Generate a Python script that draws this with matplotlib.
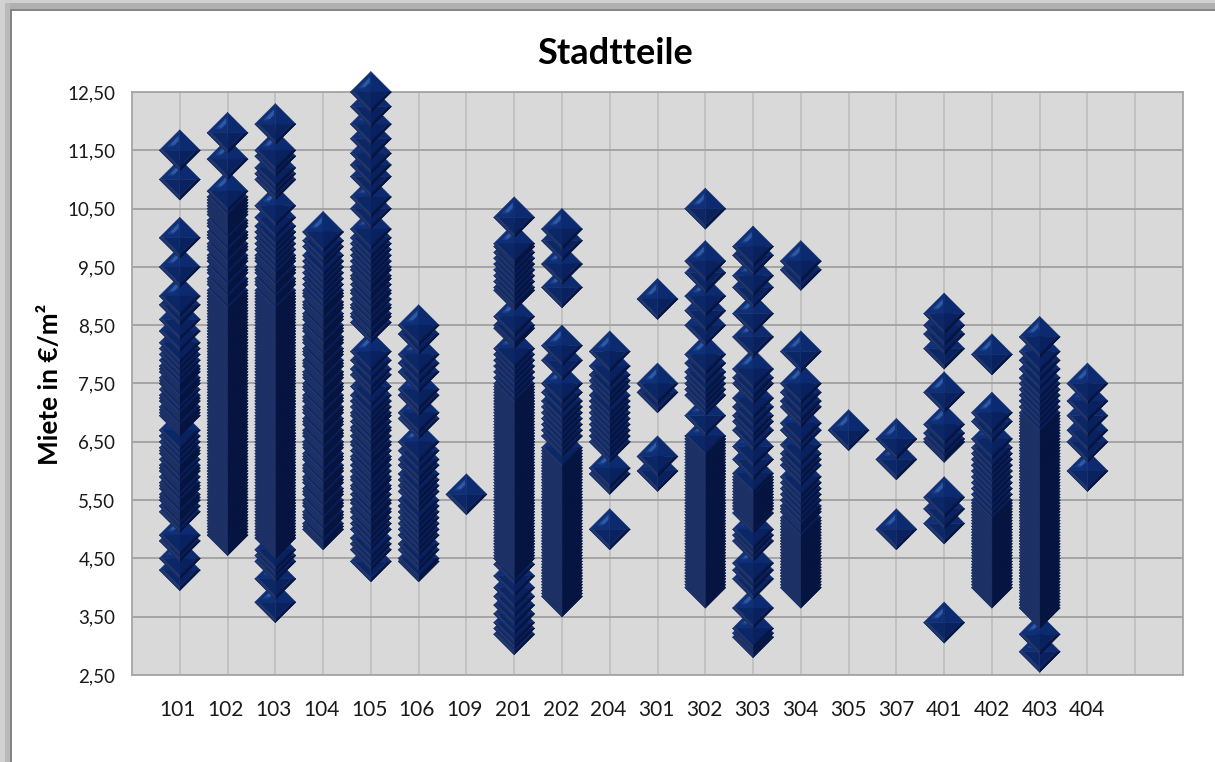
import matplotlib
matplotlib.use("Agg")
import matplotlib.pyplot as plt
import numpy as np
from matplotlib.collections import PathCollection
from matplotlib.patches import Rectangle
from matplotlib.path import Path
from matplotlib.transforms import IdentityTransform

plt.rcParams['font.family'] = ['Lato', 'DejaVu Sans']

W, H = 1215, 762

districts = ["101", "102", "103", "104", "105", "106", "109", "201", "202", "204",
             "301", "302", "303", "304", "305", "307", "401", "402", "403", "404"]

rent_101 = [4.3, 4.5, 4.8, 4.9, 5.3, 5.4, 5.5, 5.55, 5.6, 5.7, 5.75, 5.8, 5.9, 6.0, 6.05, 6.1, 6.2,
            6.3, 6.35, 6.4, 6.5, 6.6, 6.7, 6.95, 7.0, 7.05, 7.1, 7.2, 7.25, 7.3, 7.4, 7.5, 7.55, 7.6,
            7.7, 7.75, 7.8, 7.9, 8.0, 8.1, 8.2, 8.4, 8.6, 8.85, 9.0, 9.5, 10.0, 11.0, 11.5]
rent_102 = [4.9, 4.95, 5.0, 5.05, 5.1, 5.15, 5.2, 5.25, 5.3, 5.35, 5.4, 5.45, 5.5, 5.55, 5.6, 5.65,
            5.7, 5.75, 5.8, 5.85, 5.9, 5.95, 6.0, 6.05, 6.1, 6.15, 6.2, 6.25, 6.3, 6.35, 6.4, 6.45,
            6.5, 6.55, 6.6, 6.65, 6.7, 6.75, 6.8, 6.85, 6.9, 6.95, 7.0, 7.05, 7.1, 7.15, 7.2, 7.25,
            7.3, 7.35, 7.4, 7.45, 7.5, 7.55, 7.6, 7.65, 7.7, 7.75, 7.8, 7.85, 7.9, 7.95, 8.0, 8.05,
            8.1, 8.15, 8.2, 8.25, 8.3, 8.35, 8.4, 8.45, 8.5, 8.55, 8.6, 8.65, 8.7, 8.75, 8.8, 8.85,
            8.9, 8.95, 9.0, 9.05, 9.1, 9.2, 9.25, 9.3, 9.4, 9.45, 9.5, 9.6, 9.65, 9.7, 9.8, 9.85,
            9.9, 10.0, 10.05, 10.1, 10.2, 10.25, 10.3, 10.4, 10.45, 10.5, 10.55, 10.6, 10.65, 10.7,
            10.8, 11.35, 11.8]
rent_103 = [3.75, 4.15, 4.45, 4.55, 4.65, 4.85, 4.9, 4.95, 5.0, 5.05, 5.1, 5.15, 5.2, 5.25, 5.3,
            5.35, 5.4, 5.45, 5.5, 5.55, 5.6, 5.65, 5.7, 5.75, 5.8, 5.85, 5.9, 5.95, 6.0, 6.05, 6.1,
            6.15, 6.2, 6.25, 6.3, 6.35, 6.4, 6.45, 6.5, 6.55, 6.6, 6.65, 6.7, 6.75, 6.8, 6.85, 6.9,
            6.95, 7.0, 7.05, 7.1, 7.15, 7.2, 7.25, 7.3, 7.35, 7.4, 7.45, 7.5, 7.55, 7.6, 7.65, 7.7,
            7.75, 7.8, 7.85, 7.9, 7.95, 8.0, 8.05, 8.1, 8.15, 8.2, 8.25, 8.3, 8.35, 8.4, 8.45, 8.5,
            8.55, 8.6, 8.65, 8.7, 8.75, 8.8, 8.85, 8.9, 8.95, 9.0, 9.05, 9.1, 9.2, 9.25, 9.3, 9.4,
            9.45, 9.5, 9.6, 9.65, 9.7, 9.8, 9.9, 10.0, 10.1, 10.2, 10.35, 10.55, 11.0, 11.1, 11.2,
            11.4, 11.5, 11.95]
rent_104 = [5.0, 5.05, 5.1, 5.2, 5.25, 5.3, 5.4, 5.45, 5.5, 5.6, 5.65, 5.7, 5.8, 5.85, 5.9, 6.0,
            6.05, 6.1, 6.2, 6.25, 6.3, 6.4, 6.45, 6.5, 6.6, 6.65, 6.7, 6.8, 6.85, 6.9, 7.0, 7.05,
            7.1, 7.2, 7.25, 7.3, 7.4, 7.45, 7.5, 7.6, 7.65, 7.7, 7.8, 7.85, 7.9, 8.0, 8.05, 8.1,
            8.2, 8.25, 8.3, 8.4, 8.45, 8.5, 8.6, 8.65, 8.7, 8.8, 8.85, 8.9, 9.0, 9.05, 9.1, 9.2,
            9.3, 9.4, 9.5, 9.6, 9.7, 9.85, 9.95, 10.1]
rent_105 = [4.45, 4.65, 4.75, 4.85, 5.0, 5.1, 5.2, 5.3, 5.35, 5.45, 5.5, 5.6, 5.7, 5.75, 5.85, 5.9,
            6.0, 6.1, 6.2, 6.25, 6.35, 6.45, 6.5, 6.6, 6.7, 6.75, 6.85, 6.95, 7.0, 7.1, 7.2, 7.3,
            7.45, 7.65, 7.75, 7.9, 8.05, 8.55, 8.65, 8.7, 8.8, 8.85, 8.95, 9.05, 9.1, 9.2, 9.3, 9.35,
            9.45, 9.5, 9.6, 9.7, 9.8, 9.9, 10.0, 10.15, 10.5, 10.7, 11.05, 11.25, 11.45, 11.7, 11.95,
            12.25, 12.5]
rent_106 = [4.45, 4.5, 4.65, 4.75, 4.9, 5.0, 5.1, 5.2, 5.3, 5.4, 5.5, 5.65, 5.75, 5.85, 5.95, 6.1,
            6.2, 6.35, 6.5, 6.9, 7.0, 7.3, 7.4, 7.7, 7.85, 8.0, 8.35, 8.5]
rent_109 = [5.6]
rent_201 = [3.2, 3.3, 3.4, 3.55, 3.7, 3.85, 4.0, 4.2, 4.4, 4.5, 4.55, 4.6, 4.65, 4.7, 4.75, 4.8,
            4.85, 4.9, 4.95, 5.0, 5.05, 5.1, 5.15, 5.2, 5.25, 5.3, 5.35, 5.4, 5.45, 5.5, 5.55, 5.6,
            5.65, 5.7, 5.75, 5.8, 5.85, 5.9, 5.95, 6.0, 6.05, 6.1, 6.15, 6.2, 6.25, 6.3, 6.35, 6.4,
            6.45, 6.5, 6.55, 6.6, 6.65, 6.7, 6.75, 6.8, 6.85, 6.9, 6.95, 7.0, 7.05, 7.1, 7.15, 7.2,
            7.25, 7.3, 7.35, 7.4, 7.45, 7.5, 7.6, 7.7, 7.8, 7.9, 8.0, 8.1, 8.45, 8.5, 8.65, 9.1,
            9.15, 9.25, 9.35, 9.45, 9.55, 9.65, 9.75, 9.85, 9.9, 10.35]
rent_202 = [3.85, 3.9, 3.95, 4.0, 4.05, 4.1, 4.15, 4.2, 4.25, 4.3, 4.35, 4.4, 4.45, 4.5, 4.55, 4.6,
            4.65, 4.7, 4.75, 4.8, 4.85, 4.9, 4.95, 5.0, 5.05, 5.1, 5.15, 5.2, 5.25, 5.3, 5.35, 5.4,
            5.45, 5.5, 5.55, 5.6, 5.65, 5.7, 5.75, 5.8, 5.85, 5.9, 5.95, 6.0, 6.05, 6.1, 6.15, 6.2,
            6.25, 6.3, 6.35, 6.4, 6.6, 6.7, 6.8, 6.9, 7.0, 7.1, 7.2, 7.35, 7.5, 7.9, 8.15, 9.15,
            9.55, 9.95, 10.15]
rent_204 = [5.0, 5.95, 6.05, 6.5, 6.6, 6.7, 6.8, 6.9, 7.0, 7.1, 7.2, 7.3, 7.45, 7.55, 7.65, 7.8, 8.05]
rent_301 = [6.0, 6.25, 7.35, 7.5, 8.95]
rent_302 = [4.0, 4.05, 4.1, 4.15, 4.2, 4.25, 4.3, 4.35, 4.4, 4.45, 4.5, 4.55, 4.6, 4.65, 4.7, 4.75,
            4.8, 4.85, 4.9, 4.95, 5.0, 5.05, 5.1, 5.15, 5.2, 5.25, 5.3, 5.35, 5.4, 5.45, 5.5, 5.55,
            5.6, 5.65, 5.7, 5.75, 5.8, 5.85, 5.9, 5.95, 6.0, 6.05, 6.1, 6.15, 6.2, 6.25, 6.3, 6.35,
            6.4, 6.45, 6.5, 6.55, 6.6, 6.95, 7.3, 7.4, 7.5, 7.6, 7.7, 7.85, 8.0, 8.5, 8.75, 9.0,
            9.4, 9.6, 10.5]
rent_303 = [3.15, 3.22, 3.3, 3.65, 4.15, 4.3, 4.42, 4.8, 4.9, 5.0, 5.28, 5.35, 5.4, 5.45, 5.5, 5.55,
            5.6, 5.65, 5.7, 5.75, 5.8, 5.85, 5.9, 5.96, 6.2, 6.42, 6.7, 6.85, 6.95, 7.1, 7.25, 7.5,
            7.6, 7.75, 8.3, 8.7, 9.15, 9.35, 9.7, 9.85]
rent_304 = [4.0, 4.05, 4.1, 4.15, 4.2, 4.25, 4.3, 4.35, 4.4, 4.45, 4.5, 4.55, 4.6, 4.65, 4.7, 4.75,
            4.8, 4.85, 4.9, 4.95, 5.0, 5.05, 5.1, 5.15, 5.2, 5.3, 5.35, 5.4, 5.5, 5.6, 5.7, 5.8,
            5.9, 6.1, 6.2, 6.3, 6.45, 6.7, 6.82, 7.1, 7.2, 7.35, 7.5, 8.05, 9.45, 9.6]
rent_305 = [6.7]
rent_307 = [5.0, 6.2, 6.55]
rent_401 = [3.4, 5.1, 5.35, 5.55, 6.5, 6.55, 6.65, 6.8, 7.35, 8.1, 8.35, 8.5, 8.7]
rent_402 = [4.0, 4.05, 4.1, 4.15, 4.2, 4.25, 4.3, 4.35, 4.4, 4.45, 4.5, 4.55, 4.6, 4.65, 4.7, 4.75,
            4.8, 4.85, 4.9, 4.95, 5.0, 5.05, 5.1, 5.15, 5.2, 5.25, 5.3, 5.35, 5.4, 5.45, 5.5, 5.6,
            5.7, 5.8, 5.9, 6.0, 6.1, 6.2, 6.3, 6.4, 6.55, 6.85, 7.0, 8.0]
rent_403 = [2.9, 3.2, 3.65, 3.7, 3.75, 3.8, 3.85, 3.9, 3.95, 4.0, 4.05, 4.1, 4.15, 4.2, 4.25, 4.3,
            4.35, 4.4, 4.45, 4.5, 4.55, 4.6, 4.65, 4.7, 4.75, 4.8, 4.85, 4.9, 4.95, 5.0, 5.05, 5.1,
            5.15, 5.2, 5.25, 5.3, 5.35, 5.4, 5.45, 5.5, 5.55, 5.6, 5.65, 5.7, 5.75, 5.8, 5.85, 5.9,
            5.95, 6.0, 6.05, 6.1, 6.15, 6.2, 6.25, 6.3, 6.35, 6.4, 6.45, 6.5, 6.55, 6.6, 6.65, 6.7,
            6.75, 6.8, 6.85, 6.9, 6.95, 7.0, 7.1, 7.2, 7.3, 7.4, 7.5, 7.6, 7.75, 7.9, 8.05, 8.3]
rent_404 = [6.0, 6.5, 6.7, 6.95, 7.2, 7.5]

all_rents = [rent_101, rent_102, rent_103, rent_104, rent_105, rent_106, rent_109, rent_201, rent_202,
             rent_204, rent_301, rent_302, rent_303, rent_304, rent_305, rent_307, rent_401, rent_402,
             rent_403, rent_404]

y_ticks = [2.5, 3.5, 4.5, 5.5, 6.5, 7.5, 8.5, 9.5, 10.5, 11.5, 12.5]
y_labels = ["2,50", "3,50", "4,50", "5,50", "6,50", "7,50", "8,50", "9,50", "10,50", "11,50", "12,50"]

fig = plt.figure(figsize=(W / 100, H / 100), dpi=100, facecolor='white')

# grey window edge from the screenshot, in pixels from the top left
def band(x, y, w, h, color):
    fig.add_artist(Rectangle((x, H - y - h), w, h, transform=IdentityTransform(),
                             facecolor=color, edgecolor='none'))

band(0, 0, W, 3, '#d0d0d0')
band(0, 3, W, 6, '#b0b0b0')
band(0, 9, W, 2, '#868686')
band(0, 0, 5, H, '#d2d2d2')
band(5, 3, 5, H, '#bababa')
band(10, 10, 2, H, '#848484')

ax = fig.add_axes([132 / W, 1 - 675 / H, 1051 / W, 583 / H], facecolor='#d9d9d9')
ax.set_xlim(0, 22)
ax.set_ylim(2.5, 12.5)
ax.set_axisbelow(True)
ax.set_yticks(y_ticks, y_labels)
ax.set_xticks(range(1, 23))
ax.grid(axis='y', color='#a0a0a0', linewidth=1.3)
ax.grid(axis='x', color='#c0c0c0', linewidth=1.3)
ax.tick_params(length=0, labelsize=13.5, labelcolor='#1a1a1a')
ax.tick_params(axis='y', pad=12)
ax.set_xticklabels([])
for spine in ax.spines.values():
    spine.set_color('#a6a6a6')
    spine.set_linewidth(1.3)

for i, name in enumerate(districts):
    # labels drift a few px left of their gridlines towards the left side
    nudge = -2.5 * (16 - i) / 16 if i < 16 else 0
    ax.annotate(name, (i + 1, 2.5), xytext=(nudge * 0.72, -25), textcoords='offset points',
                ha='center', va='center', fontsize=15, color='#1a1a1a')

fig.text(50 / W, 1 - 384 / H, "Miete in €/m²", fontsize=18.8, fontweight='bold', rotation=90,
         ha='center', va='center')
fig.text(615 / W, 1 - 54 / H, "Stadtteile", fontsize=26, fontweight='bold', ha='center', va='center')

# bevelled diamond, one polygon per facet, in pixels around the marker centre
R = 20.5
r = 0.8
s = 0.95
T, E, B, L = (0, 1), (1, 0), (0, -1), (-1, 0)
e, b, l = (r, 0), (0, -r), (-r, 0)
e2, b2, l2 = (s, 0), (0, -s), (-s, 0)
c = (0, 0)
facets = [
    ([L, T, c], '#0f2f78'),
    ([T, E, c], '#0b2a70'),
    ([E, B, b, e], '#081a4c'),
    ([E, B, b2, e2], '#05123a'),
    ([B, L, l, b], '#24386c'),
    ([B, L, l2, b2], '#1a2d62'),
    ([e, b, c], '#0a2160'),
    ([b, l, c], '#0c2766'),
    ([(-0.06, 0.74), (-0.6, 0.2), (-0.34, 0.18), (-0.06, 0.42)], '#1b4088'),
    ([(-0.08, 0.66), (-0.44, 0.28), (-0.28, 0.26), (-0.08, 0.48)], '#2f5aa4'),
]
facet_paths = [Path(np.array(pts + [pts[0]], dtype=float) * R, closed=True) for pts, _ in facets]
facet_colors = [col for _, col in facets]

# lower rents first so higher diamonds sit on top, as in the original
offsets = []
for pos, rents in enumerate(all_rents, start=1):
    for rent in sorted(rents):
        offsets.extend([(pos, rent)] * len(facets))

diamonds = PathCollection(facet_paths, offsets=offsets, offset_transform=ax.transData,
                          facecolors=facet_colors, edgecolors=facet_colors, linewidths=0.3,
                          transform=IdentityTransform(), zorder=3, clip_on=False)
ax.add_collection(diamonds, autolim=False)

fig.savefig("out.png", dpi=100)
